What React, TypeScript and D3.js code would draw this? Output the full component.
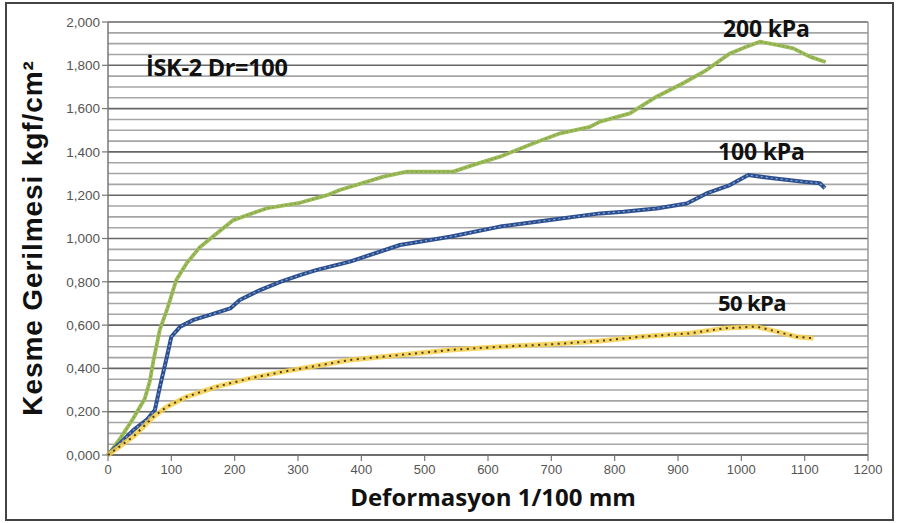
import React from "react";
import * as d3 from "d3";

const xTicks = [0, 100, 200, 300, 400, 500, 600, 700, 800, 900, 1000, 1100, 1200];
const yTicks = [0, 0.2, 0.4, 0.6, 0.8, 1.0, 1.2, 1.4, 1.6, 1.8, 2.0];

const green200X = [0, 20, 40, 58, 66, 72, 82, 93, 108, 124, 145, 172, 198, 251, 303, 346, 366, 435, 472, 545, 577, 619, 672, 714, 761, 777, 824, 866, 908, 945, 982, 1008, 1029, 1056, 1082, 1108, 1133];
const green200Y = [0, 0.08, 0.17, 0.26, 0.34, 0.44, 0.58, 0.67, 0.81, 0.885, 0.96, 1.024, 1.085, 1.14, 1.165, 1.2, 1.224, 1.286, 1.309, 1.309, 1.34, 1.378, 1.44, 1.486, 1.516, 1.54, 1.578, 1.655, 1.717, 1.778, 1.855, 1.886, 1.909, 1.894, 1.878, 1.84, 1.815];

const blue100X = [0, 10, 19, 40, 61, 74, 82, 93, 100, 114, 135, 161, 193, 208, 240, 272, 303, 330, 382, 461, 540, 619, 698, 777, 814, 866, 914, 945, 982, 1011, 1050, 1098, 1124, 1132];
const blue100Y = [0, 0.03, 0.054, 0.115, 0.162, 0.208, 0.316, 0.454, 0.546, 0.593, 0.624, 0.647, 0.677, 0.716, 0.762, 0.8, 0.831, 0.855, 0.893, 0.97, 1.008, 1.055, 1.085, 1.116, 1.124, 1.139, 1.162, 1.208, 1.247, 1.293, 1.278, 1.262, 1.255, 1.232];

const yellow50X = [0, 40, 72, 93, 124, 172, 224, 277, 330, 382, 461, 540, 619, 698, 777, 840, 919, 972, 1024, 1056, 1087, 1114];
const yellow50Y = [0, 0.085, 0.177, 0.223, 0.269, 0.316, 0.354, 0.385, 0.412, 0.439, 0.462, 0.485, 0.5, 0.511, 0.527, 0.546, 0.562, 0.585, 0.593, 0.57, 0.546, 0.539];

const W = 899;
const H = 523;
const TITLE_FONT = "'Open Sans', sans-serif";

export default function App() {
  const x = d3.scaleLinear().domain([0, 1200]).range([108, 868]);
  const y = d3.scaleLinear().domain([0, 2]).range([455, 22]);
  const line = d3
    .line<[number, number]>()
    .x((d) => x(d[0]))
    .y((d) => y(d[1]));
  const zip = (a: number[], b: number[]) => a.map((v, i) => [v, b[i]] as [number, number]);
  const green = line(zip(green200X, green200Y)) || "";
  const blue = line(zip(blue100X, blue100Y)) || "";
  const yellow = line(zip(yellow50X, yellow50Y)) || "";
  const minor = d3.range(0, 2.0001, 0.05);

  return (
    <svg
      width={W}
      height={H}
      style={{ position: "absolute", left: 0, top: 0, background: "#fff" }}
      fontFamily="'Liberation Sans', Arial, sans-serif"
    >
      <rect x={0} y={0} width={W} height={H} fill="#fff" />
      <rect x={6} y={3} width={887} height={517} fill="none" stroke="#444" strokeWidth={2} />
      {minor.map((v, i) => (
        <line
          key={"g" + i}
          x1={x(0)}
          x2={x(1200)}
          y1={y(v)}
          y2={y(v)}
          stroke={i % 4 === 0 ? "#666" : "#a5a5a5"}
          strokeWidth={1.6}
        />
      ))}
      <line x1={x(1200)} x2={x(1200)} y1={y(0)} y2={y(2)} stroke="#999" strokeWidth={1.5} />
      <line x1={x(0)} x2={x(0)} y1={y(0)} y2={y(2)} stroke="#777" strokeWidth={1.5} />
      <line x1={x(0)} x2={x(1200)} y1={y(0)} y2={y(0)} stroke="#666" strokeWidth={1.6} />
      {yTicks.map((v, i) => (
        <g key={"yt" + i}>
          <line x1={x(0) - 6} x2={x(0)} y1={y(v)} y2={y(v)} stroke="#777" strokeWidth={1.2} />
          <text x={x(0) - 8} y={y(v)} dy="0.35em" textAnchor="end" fontSize={13.5} fill="#555">
            {v.toFixed(3).replace(".", ",")}
          </text>
        </g>
      ))}
      {xTicks.map((v, i) => (
        <g key={"xt" + i}>
          <line x1={x(v)} x2={x(v)} y1={y(0)} y2={y(0) + 6} stroke="#777" strokeWidth={1.2} />
          <text x={x(v)} y={y(0) + 19} textAnchor="middle" fontSize={13} fill="#555">
            {v}
          </text>
        </g>
      ))}

      <path d={green} fill="none" stroke="#9bbb59" strokeWidth={3.8} strokeLinejoin="round" />
      <path d={green} fill="none" stroke="#7e9a45" strokeWidth={1.2} strokeDasharray="1.5 3" />

      <path d={blue} fill="none" stroke="#2c4f8f" strokeWidth={4} strokeLinejoin="round" />
      <path d={blue} fill="none" stroke="#8fa8d4" strokeWidth={1.2} strokeDasharray="2 3" />

      <path d={yellow} fill="none" stroke="#f5cf4a" strokeWidth={5} strokeOpacity={0.85} strokeLinejoin="round" />
      <path d={yellow} fill="none" stroke="#4a3a1a" strokeWidth={2} strokeDasharray="2 4.5" />

      <text x={146} y={76} fontSize={23.5} fontWeight="bold" fill="#111" fontFamily={TITLE_FONT} letterSpacing={-0.3}>
        İSK-2 Dr=100
      </text>
      <text x={723} y={37} fontSize={23} fontWeight="bold" fill="#111" fontFamily={TITLE_FONT} letterSpacing={-0.2}>
        200 kPa
      </text>
      <text x={718} y={160} fontSize={23} fontWeight="bold" fill="#111" fontFamily={TITLE_FONT} letterSpacing={-0.2}>
        100 kPa
      </text>
      <text x={718} y={311} fontSize={22} fontWeight="bold" fill="#111" fontFamily={TITLE_FONT} letterSpacing={-0.6}>
        50 kPa
      </text>

      <text
        x={493}
        y={506}
        textAnchor="middle"
        fontSize={24}
        fontWeight="bold"
        fill="#111"
        fontFamily={TITLE_FONT}
      >
        Deformasyon 1/100 mm
      </text>
      <text
        transform={`translate(42, 238) rotate(-90)`}
        textAnchor="middle"
        fontSize={28}
        fontWeight="bold"
        fill="#111"
        letterSpacing={0.9}
        fontFamily="'Liberation Sans', Arial, sans-serif"
      >
        Kesme Gerilmesi kgf/cm²
      </text>
    </svg>
  );
}
